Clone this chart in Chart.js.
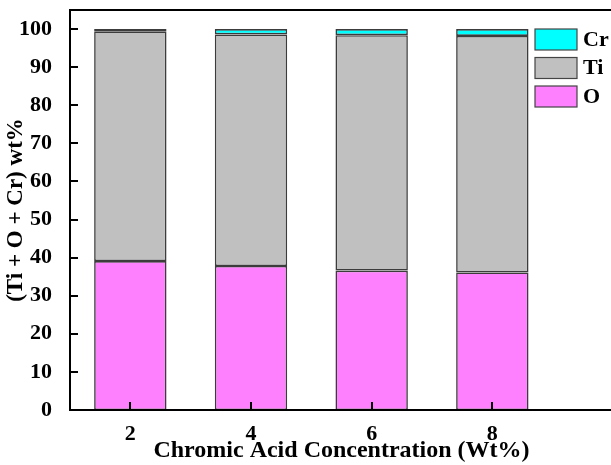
<!DOCTYPE html>
<html>
<head>
<meta charset="utf-8">
<script src="https://cdn.jsdelivr.net/npm/chart.js@4"></script>
<style>
  html, body { margin: 0; padding: 0; background: #fff; overflow: hidden; }
</style>
</head>
<body>
<canvas id="chart" width="640" height="465"></canvas>
<script>
const concentrations = [2, 4, 6, 8];
const oxygen = [39.1, 37.8, 36.6, 36.1];
const titanium = [60.3, 60.8, 61.8, 62.1];
const chromium = [0.6, 1.4, 1.6, 1.8];
const yTickValues = [0, 10, 20, 30, 40, 50, 60, 70, 80, 90, 100];

const serif = 'Liberation Serif, Times New Roman, serif';

function points(values) {
  return concentrations.map((c, i) => ({ x: c, y: values[i] }));
}

// frame, inward ticks and the legend inside the plot
const frameAndLegend = {
  id: 'frameAndLegend',
  afterDatasetsDraw(chart) {
    const { ctx, chartArea: a, scales: { x, y } } = chart;
    ctx.save();
    ctx.strokeStyle = '#000';
    ctx.lineWidth = 2;
    ctx.strokeRect(a.left, a.top, a.right - a.left, a.bottom - a.top);
    ctx.beginPath();
    y.ticks.forEach(t => {
      const py = Math.round(y.getPixelForValue(t.value));
      ctx.moveTo(a.left, py);
      ctx.lineTo(a.left + 8, py);
    });
    x.ticks.forEach(t => {
      const px = Math.round(x.getPixelForValue(t.value));
      ctx.moveTo(px, a.bottom);
      ctx.lineTo(px, a.bottom - 8);
    });
    ctx.stroke();

    // legend, top entry is the top stack
    const items = chart.data.datasets.slice().reverse();
    ctx.font = 'bold 22px ' + serif;
    ctx.textBaseline = 'middle';
    ctx.textAlign = 'left';
    items.forEach((ds, i) => {
      const top = 29 + i * 28.5;
      ctx.fillStyle = ds.backgroundColor;
      ctx.fillRect(535, top, 42, 21);
      ctx.lineWidth = 1.2;
      ctx.strokeStyle = '#444';
      ctx.strokeRect(535, top, 42, 21);
      ctx.fillStyle = '#000';
      ctx.fillText(ds.label, 583, top + 11);
    });
    ctx.restore();
  }
};

new Chart(document.getElementById('chart'), {
  type: 'bar',
  data: {
    datasets: [
      { label: 'O', data: points(oxygen), backgroundColor: '#FF80FF' },
      { label: 'Ti', data: points(titanium), backgroundColor: '#C0C0C0' },
      { label: 'Cr', data: points(chromium), backgroundColor: '#00FFFF' }
    ]
  },
  options: {
    responsive: false,
    animation: false,
    layout: { padding: { top: 10, right: 27, left: 0, bottom: 0 } },
    datasets: {
      bar: {
        barPercentage: 0.6,
        categoryPercentage: 1,
        borderWidth: 1.6,
        borderColor: '#3c3c3c',
        borderSkipped: false
      }
    },
    plugins: {
      legend: { display: false },
      tooltip: { enabled: false }
    },
    scales: {
      x: {
        type: 'linear',
        stacked: true,
        offset: false,
        min: 1,
        max: 10,
        grid: { display: false, offset: false },
        border: { display: false },
        afterBuildTicks: s => { s.ticks = concentrations.map(v => ({ value: v })); },
        afterFit: s => { s.height = 55; s.paddingLeft = 0; s.paddingRight = 0; },
        ticks: {
          color: '#000',
          padding: 3,
          font: { family: serif, size: 22, weight: 'bold' }
        },
        title: {
          display: true,
          text: 'Chromic Acid Concentration (Wt%)',
          color: '#000',
          padding: { top: 0, bottom: 0 },
          font: { family: serif, size: 24, weight: 'bold' }
        }
      },
      y: {
        stacked: true,
        min: 0,
        max: 105,
        grid: { display: false },
        border: { display: false },
        afterBuildTicks: s => { s.ticks = yTickValues.map(v => ({ value: v })); },
        afterFit: s => { s.width = 70; s.paddingTop = 0; s.paddingBottom = 0; },
        ticks: {
          color: '#000',
          padding: 10,
          font: { family: serif, size: 22, weight: 'bold' }
        },
        title: {
          display: true,
          text: '(Ti + O + Cr) wt%',
          color: '#000',
          padding: { top: 2, bottom: 0 },
          font: { family: serif, size: 23, weight: 'bold' }
        }
      }
    }
  },
  plugins: [frameAndLegend]
});
</script>
</body>
</html>
